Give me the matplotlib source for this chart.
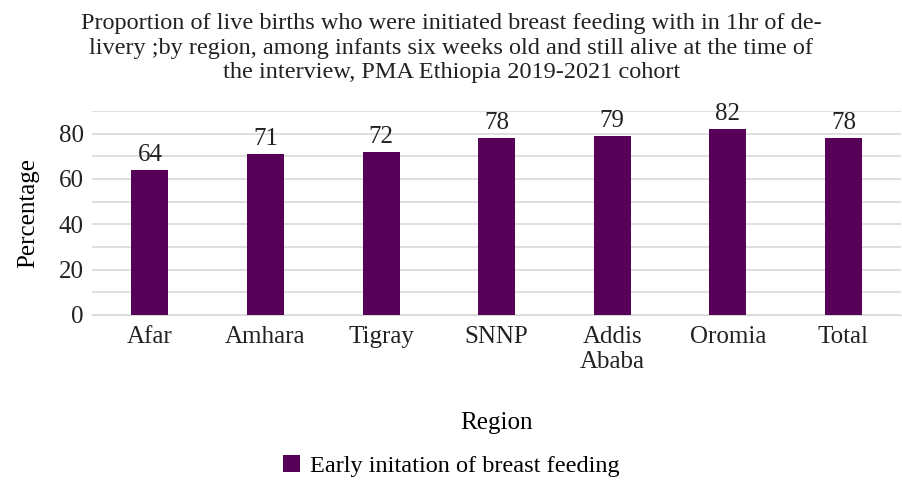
import matplotlib.pyplot as plt

regions = ['Afar', 'Amhara', 'Tigray', 'SNNP', 'Addis\nAbaba', 'Oromia', 'Total']
early_init = [64, 71, 72, 78, 79, 82, 78]
yticks = [0, 20, 40, 60, 80]

bar_color = '#570057'
plt.rcParams['font.family'] = ['Liberation Serif', 'DejaVu Serif']

fig = plt.figure(figsize=(9.03, 4.82), dpi=100)
ax = fig.add_axes([0.102, 0.3465, 0.896, 0.4235])

x = range(len(regions))
bars = ax.bar(x, early_init, width=0.32, color=bar_color, zorder=3,
              label='Early initation of breast feeding')
for b, v in zip(bars, early_init):
    ax.text(b.get_x() + b.get_width() / 2, v + 1.8, str(v), ha='center', va='bottom',
            fontsize=18, color='#222222')

ax.set_xlim(-0.5, len(regions) - 0.5)
ax.set_ylim(0, 90)
ax.set_yticks(yticks)
ax.set_yticks(range(0, 91, 10), minor=True)
ax.grid(axis='y', which='both', color='#d9d9d9', linewidth=1.2, zorder=0)
ax.set_xticks(list(x))
ax.set_xticklabels(regions, fontsize=18, linespacing=1.15)
ax.tick_params(axis='both', which='both', length=0, labelsize=18, colors='#222222')
ax.tick_params(axis='x', pad=8)
ax.tick_params(axis='y', pad=6)
for s in ['top', 'right', 'left']:
    ax.spines[s].set_visible(False)
ax.spines['bottom'].set_color('#d9d9d9')

ax.set_ylabel('Percentage', fontsize=18, labelpad=14)
ax.set_xlabel('Region', fontsize=18, labelpad=28)

fig.suptitle('Proportion of live births who were initiated breast feeding with in 1hr of de-\n'
             'livery ;by region, among infants six weeks old and still alive at the time of\n'
             'the interview, PMA Ethiopia 2019-2021 cohort',
             x=0.5, y=0.972, fontsize=17.5, linespacing=1.2, color='#222222')

fig.legend(loc='lower center', bbox_to_anchor=(0.5, -0.035), frameon=False,
           fontsize=17.5, handlelength=0.7, handleheight=0.7, handletextpad=0.4)

fig.savefig('out.png', dpi=100)
